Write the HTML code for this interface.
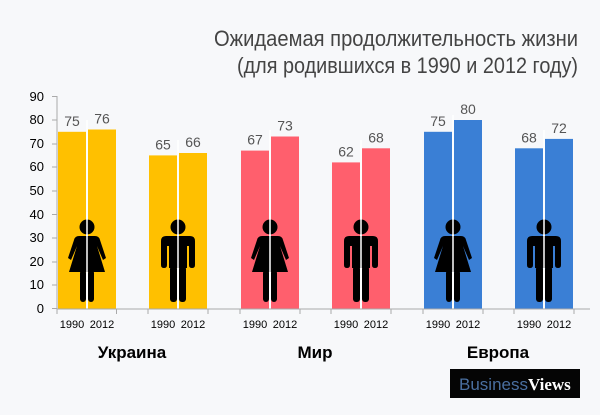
<!DOCTYPE html>
<html><head><meta charset="utf-8"><style>
html,body{margin:0;padding:0;background:#f7f8fa;}
svg{display:block;font-family:"Liberation Sans",sans-serif;}
</style></head><body>
<svg width="600" height="415" viewBox="0 0 600 415" xmlns="http://www.w3.org/2000/svg">
<rect width="600" height="415" fill="#f7f8fa"/>
<text x="578" y="46" text-anchor="end" font-size="22" fill="#444" textLength="364" lengthAdjust="spacingAndGlyphs">Ожидаемая продолжительность жизни</text>
<text x="578" y="73" text-anchor="end" font-size="22" fill="#444" textLength="341" lengthAdjust="spacingAndGlyphs">(для родившихся в 1990 и 2012 году)</text>
<g font-size="13" fill="#000" text-anchor="end">
<text x="44" y="101">90</text><text x="44" y="124">80</text><text x="44" y="148">70</text><text x="44" y="171">60</text><text x="44" y="195">50</text><text x="44" y="219">40</text><text x="44" y="242">30</text><text x="44" y="266">20</text><text x="44" y="289">10</text><text x="44" y="313">0</text>
</g>
<line x1="57" y1="96" x2="57" y2="309" stroke="#aaa"/>
<line x1="57" y1="309" x2="590" y2="309" stroke="#aaa"/>
<g stroke="#aaa">
<line x1="52" y1="96.5" x2="57" y2="96.5"/><line x1="52" y1="120" x2="57" y2="120"/><line x1="52" y1="144" x2="57" y2="144"/><line x1="52" y1="167" x2="57" y2="167"/><line x1="52" y1="191" x2="57" y2="191"/><line x1="52" y1="214.5" x2="57" y2="214.5"/><line x1="52" y1="238" x2="57" y2="238"/><line x1="52" y1="262" x2="57" y2="262"/><line x1="52" y1="285" x2="57" y2="285"/><line x1="52" y1="308.5" x2="57" y2="308.5"/>
</g>
<defs>
<g id="woman" fill="#000">
<circle cx="0" cy="-81" r="7.5"/>
<path d="M-8,-72 L8,-72 Q12,-72 13,-68 L19,-50 L16,-48 L10,-62 L18,-36 L-18,-36 L-10,-62 L-16,-48 L-19,-50 L-13,-68 Q-12,-72 -8,-72Z"/>
<rect x="-7" y="-38" width="6" height="32" rx="3"/>
<rect x="1" y="-38" width="6" height="32" rx="3"/>
</g>
<g id="man" fill="#000">
<circle cx="0" cy="-81" r="7.5"/>
<path d="M-12,-72 L12,-72 Q17,-72 17,-67 L17,-43 Q17,-40 14,-40 Q11,-40 11,-43 L11,-62 L9,-62 L9,-40 L-9,-40 L-9,-62 L-11,-62 L-11,-43 Q-11,-40 -14,-40 Q-17,-40 -17,-43 L-17,-67 Q-17,-72 -12,-72Z"/>
<rect x="-8" y="-42" width="7" height="36" rx="3"/>
<rect x="1" y="-42" width="7" height="36" rx="3"/>
</g>
</defs>
<!-- bars -->
<g>
<rect x="58" y="131.8" width="28" height="176.7" fill="#ffc000"/><rect x="88" y="129.5" width="28" height="179" fill="#ffc000"/>
<rect x="149" y="155.4" width="28" height="153.1" fill="#ffc000"/><rect x="179" y="153" width="28" height="155.5" fill="#ffc000"/>
<rect x="241" y="150.6" width="28" height="157.9" fill="#ff5f6d"/><rect x="271" y="136.5" width="28" height="172" fill="#ff5f6d"/>
<rect x="332" y="162.4" width="28" height="146.1" fill="#ff5f6d"/><rect x="362" y="148.3" width="28" height="160.2" fill="#ff5f6d"/>
<rect x="424" y="131.8" width="28" height="176.7" fill="#3a7fd5"/><rect x="454" y="120" width="28" height="188.5" fill="#3a7fd5"/>
<rect x="515" y="148.3" width="28" height="160.2" fill="#3a7fd5"/><rect x="545" y="138.9" width="28" height="169.6" fill="#3a7fd5"/>
</g>
<use href="#woman" transform="translate(87,308)"/>
<use href="#man" transform="translate(178,308)"/>
<use href="#woman" transform="translate(270,308)"/>
<use href="#man" transform="translate(361,308)"/>
<use href="#woman" transform="translate(453,308)"/>
<use href="#man" transform="translate(544,308)"/>
<g stroke="#fff" stroke-width="1.5">
<line x1="87" y1="120" x2="87" y2="308"/><line x1="178" y1="140" x2="178" y2="308"/><line x1="270" y1="130" x2="270" y2="308"/><line x1="361" y1="140" x2="361" y2="308"/><line x1="453" y1="115" x2="453" y2="308"/><line x1="544" y1="130" x2="544" y2="308"/>
</g>
<g stroke="#aaa"><line x1="57" y1="309" x2="57" y2="314"/><line x1="116.5" y1="309" x2="116.5" y2="314"/><line x1="148" y1="309" x2="148" y2="314"/><line x1="208" y1="309" x2="208" y2="314"/><line x1="240" y1="309" x2="240" y2="314"/><line x1="300" y1="309" x2="300" y2="314"/><line x1="331" y1="309" x2="331" y2="314"/><line x1="391" y1="309" x2="391" y2="314"/><line x1="423" y1="309" x2="423" y2="314"/><line x1="483" y1="309" x2="483" y2="314"/><line x1="514" y1="309" x2="514" y2="314"/><line x1="574" y1="309" x2="574" y2="314"/></g>
<g font-size="14" fill="#555" text-anchor="middle">
<text x="72" y="126">75</text><text x="102" y="123.5">76</text>
<text x="163" y="149.5">65</text><text x="193" y="147">66</text>
<text x="255" y="144.5">67</text><text x="285" y="130.5">73</text>
<text x="346" y="156.5">62</text><text x="376" y="142.5">68</text>
<text x="438" y="126">75</text><text x="468" y="114">80</text>
<text x="529" y="142.5">68</text><text x="559" y="133">72</text>
</g>
<g font-size="11" fill="#000" text-anchor="middle">
<text x="72" y="328">1990</text><text x="102" y="328">2012</text>
<text x="163" y="328">1990</text><text x="193" y="328">2012</text>
<text x="255" y="328">1990</text><text x="285" y="328">2012</text>
<text x="346" y="328">1990</text><text x="376" y="328">2012</text>
<text x="438" y="328">1990</text><text x="468" y="328">2012</text>
<text x="529" y="328">1990</text><text x="559" y="328">2012</text>
</g>
<g font-size="17" font-weight="bold" fill="#000" text-anchor="middle">
<text x="132" y="358">Украина</text><text x="315" y="358">Мир</text><text x="498" y="358">Европа</text>
</g>
<rect x="450" y="369" width="130" height="29" fill="#050505"/>
<text x="459" y="390" font-size="17" fill="#4a6fa0">Business<tspan fill="#fff" font-weight="bold" font-family="Liberation Serif,serif">Views</tspan></text>
</svg>
</body></html>
